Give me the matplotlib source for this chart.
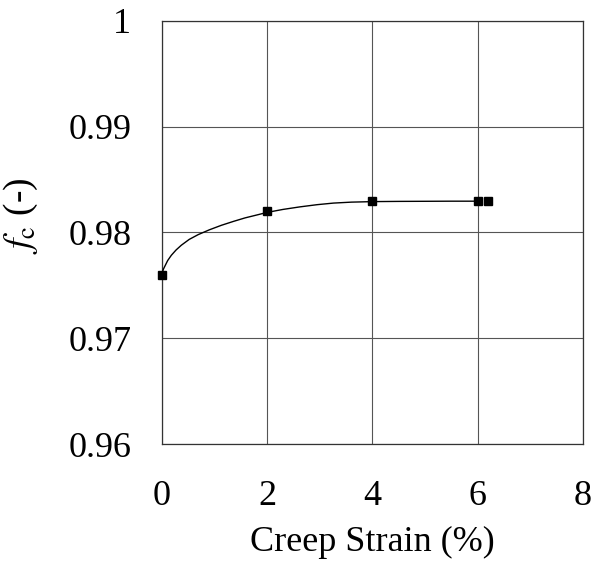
import matplotlib
matplotlib.use("Agg")
import matplotlib.pyplot as plt

# measured points (creep strain %, f_c)
strain = [0.0, 2.0, 4.0, 6.0, 6.2]
fc = [0.976, 0.982, 0.983, 0.983, 0.983]

# fitted curve
curve_x = [0.0, 0.01, 0.03, 0.06, 0.11, 0.18, 0.27, 0.37, 0.52, 0.69, 0.9, 1.13,
           1.36, 1.58, 1.8, 2.0, 2.3, 2.62, 2.95, 3.26, 3.6, 4.02, 4.5, 5.03, 5.5, 6.0]
curve_y = [0.9759, 0.97625, 0.97655, 0.97685, 0.97735, 0.97785, 0.97835, 0.9788,
           0.97935, 0.9798, 0.98025, 0.98068, 0.98105, 0.98138, 0.98165, 0.9819,
           0.98218, 0.98242, 0.98263, 0.98278, 0.98287, 0.98292, 0.98294,
           0.98295, 0.98296, 0.98296]

x_ticks = [0, 2, 4, 6, 8]
y_ticks = [0.96, 0.97, 0.98, 0.99, 1.0]
y_labels = ["0.96", "0.97", "0.98", "0.99", "1"]

plt.rcParams["font.family"] = ["Liberation Serif", "DejaVu Serif"]
plt.rcParams["mathtext.fontset"] = "stix"

fig = plt.figure(figsize=(5.93, 5.65), dpi=100)
ax = fig.add_axes([0.273, 0.214, 0.71, 0.749])

ax.plot(curve_x, curve_y, color="black", lw=1.0, zorder=3)
ax.plot(strain, fc, "s", color="black", ms=6, zorder=4, clip_on=False)

ax.set_xlim(0, 8)
ax.set_ylim(0.96, 1.0)
ax.set_xticks(x_ticks)
ax.set_yticks(y_ticks)
ax.set_yticklabels(y_labels)
ax.grid(True, color="#555555", lw=0.8)
ax.tick_params(length=0, labelsize=26)
ax.tick_params(axis="y", pad=22)
ax.tick_params(axis="x", pad=26)
for s in ax.spines.values():
    s.set_color("#333333")
    s.set_linewidth(0.9)

ax.set_xlabel("Creep Strain (%)", fontsize=26, labelpad=9)
ax.set_ylabel(r"$f_{\mathrm{c}}$ (-)", fontsize=27)
ax.yaxis.set_label_coords(-0.29, 0.54)

fig.savefig("out.png", dpi=100)
